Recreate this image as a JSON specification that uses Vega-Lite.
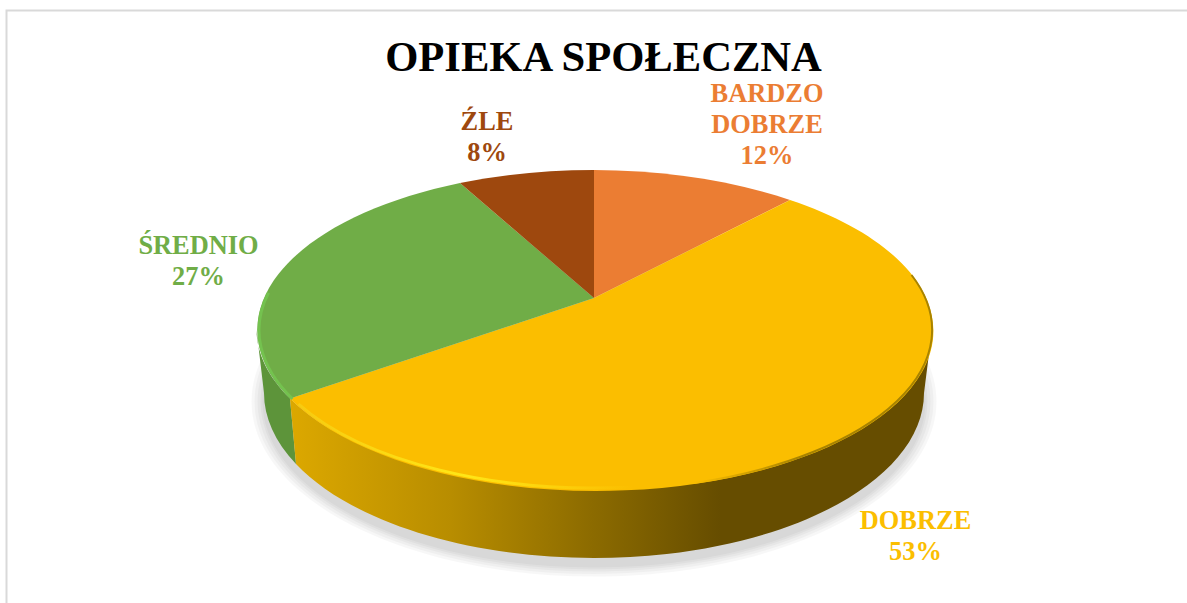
{"$schema":"https://vega.github.io/schema/vega-lite/v6.json","width":1187,"height":603,"autosize":{"type":"none"},"padding":0,"background":"white","view":{"stroke":null},
"title":{"text":"OPIEKA SPOŁECZNA","font":"Liberation Serif","fontSize":42.6,"fontWeight":"bold","color":"black","anchor":"middle","dx":10,"offset":-114,"baseline":"alphabetic"},
"data":{"values":[{"label":"BARDZO DOBRZE","value":12},{"label":"DOBRZE","value":53},{"label":"ŚREDNIO","value":27},{"label":"ŹLE","value":8}]},
"transform":[{"calculate":"replace(datum.label,' ','\\n')+'\\n'+datum.value+'%'","as":"text"}],
"layer":[
{"transform":[{"filter":"datum.label==='DOBRZE'"}],"mark":{"type":"point","size":4,"opacity":1,"fill":"none","filled":false,"stroke":"#d9d9d9","strokeWidth":2,"shape":"M-587,303 L-587,-291 L600,-291"}},
{"transform":[{"filter":"datum.label==='DOBRZE'"}],"mark":{"type":"point","size":4,"opacity":0.03,"filled":true,"fill":"black","stroke":null,"shape":"M-342,100 A342.5,175 0 0 0 343,100 A342.5,175 0 0 0 -342,100 Z"}},
{"transform":[{"filter":"datum.label==='DOBRZE'"}],"mark":{"type":"point","size":4,"opacity":0.03,"filled":true,"fill":"black","stroke":null,"shape":"M-339,100 A339.5,172.5 0 0 0 340,100 A339.5,172.5 0 0 0 -339,100 Z"}},
{"transform":[{"filter":"datum.label==='DOBRZE'"}],"mark":{"type":"point","size":4,"opacity":0.03,"filled":true,"fill":"black","stroke":null,"shape":"M-336,100 A336.5,170 0 0 0 337,100 A336.5,170 0 0 0 -336,100 Z"}},
{"transform":[{"filter":"datum.label==='DOBRZE'"}],"mark":{"type":"point","size":4,"opacity":0.03,"filled":true,"fill":"black","stroke":null,"shape":"M-333,100 A333.5,168 0 0 0 334,100 A333.5,168 0 0 0 -333,100 Z"}},
{"transform":[{"filter":"datum.label==='DOBRZE'"}],"mark":{"type":"point","size":4,"opacity":0.03,"filled":true,"fill":"black","stroke":null,"shape":"M-331,100 A331.5,166 0 0 0 332,100 A331.5,166 0 0 0 -331,100 Z"}},
{"transform":[{"filter":"datum.label==='ŚREDNIO'"}],"mark":{"type":"point","size":4,"opacity":1,"filled":true,"fill":"#5d943a","stroke":null,"shape":"M-337,28.5 L-329.5,91.5 A330,165 0 0 0 -297.5,162.4 L-303.5,97 A337.5,160 0 0 1 -337,28.5 Z"}},
{"transform":[{"filter":"datum.label==='DOBRZE'"}],"mark":{"type":"point","size":4,"opacity":1,"filled":true,"stroke":null,"fill":{"gradient":"linear","x1":0,"y1":0,"x2":1,"y2":0,"stops":[{"offset":0,"color":"#dca800"},{"offset":0.25,"color":"#b88d00"},{"offset":0.47,"color":"#8c6b00"},{"offset":0.67,"color":"#664d00"},{"offset":1,"color":"#664d00"}]},"shape":"M-303.5,97 L-297.5,162.4 A330,165 0 0 0 330.5,91.5 L338.5,28.5 A337.5,160 0 0 1 -303.5,97 Z"}},
{"mark":{"type":"point","size":4,"opacity":1,"filled":true},"encoding":{
"shape":{"field":"label","type":"nominal","legend":null,"scale":{"domain":["BARDZO DOBRZE","DOBRZE","ŚREDNIO","ŹLE"],"range":["M0.5,-3.5 L0.5,-131.5 A337.5,160 0 0 1 196.5,-101.5 Z","M0.5,-3.5 L196.5,-101.5 A337.5,160 0 1 1 -303.5,97 Z","M0.5,-3.5 L-303.5,97 A337.5,160 0 0 1 -133.5,-118.4 Z","M0.5,-3.5 L-133.5,-118.4 A337.5,160 0 0 1 0.5,-131.5 Z"]}},
"color":{"field":"label","type":"nominal","legend":null,"scale":{"domain":["BARDZO DOBRZE","DOBRZE","ŚREDNIO","ŹLE"],"range":["#EB7D33","#FBBE00","#70AD47","#9E480E"]}}}},
{"transform":[{"filter":"datum.label==='DOBRZE'"}],"mark":{"type":"point","size":4,"opacity":1,"fill":"none","filled":false,"strokeWidth":3,"stroke":{"gradient":"linear","x1":0,"y1":0,"x2":1,"y2":0,"stops":[{"offset":0,"color":"#f7cb10"},{"offset":0.5,"color":"#ffe617"},{"offset":1,"color":"#fbbe00"}]},"shape":"M-295,102.5 A335,158 0 0 0 40,185.4"}},
{"transform":[{"filter":"datum.label==='DOBRZE'"}],"mark":{"type":"point","size":4,"opacity":1,"fill":"none","filled":false,"strokeWidth":2,"stroke":{"gradient":"linear","x1":0,"y1":0,"x2":1,"y2":0,"stops":[{"offset":0,"color":"#fbbe00"},{"offset":0.45,"color":"#a88300"},{"offset":1,"color":"#a88300"}]},"shape":"M100,181.5 A337.5,160 0 0 0 318,-26.5"}},
{"transform":[{"filter":"datum.label==='ŚREDNIO'"}],"mark":{"type":"point","size":4,"opacity":1,"fill":"none","filled":false,"strokeWidth":3,"stroke":"#74c24f","shape":"M-301,97.4 A335.5,158 0 0 1 -325,-8.8"}},
{"transform":[{"filter":"datum.label==='BARDZO DOBRZE'"}],"mark":{"type":"text","font":"Liberation Serif","fontSize":26.4,"fontWeight":"bold","lineBreak":"\n","lineHeight":31,"baseline":"alphabetic","align":"center","dx":173.5,"dy":-199.5},"encoding":{"text":{"field":"text"},"color":{"field":"label","type":"nominal","legend":null}}},
{"transform":[{"filter":"datum.label==='ŹLE'"}],"mark":{"type":"text","font":"Liberation Serif","fontSize":26.4,"fontWeight":"bold","lineBreak":"\n","lineHeight":31,"baseline":"alphabetic","align":"center","dx":-106.5,"dy":-171.5},"encoding":{"text":{"field":"text"},"color":{"field":"label","type":"nominal","legend":null}}},
{"transform":[{"filter":"datum.label==='ŚREDNIO'"}],"mark":{"type":"text","font":"Liberation Serif","fontSize":26.4,"fontWeight":"bold","lineBreak":"\n","lineHeight":31,"baseline":"alphabetic","align":"center","dx":-395,"dy":-47.5},"encoding":{"text":{"field":"text"},"color":{"field":"label","type":"nominal","legend":null}}},
{"transform":[{"filter":"datum.label==='DOBRZE'"}],"mark":{"type":"text","font":"Liberation Serif","fontSize":26.4,"fontWeight":"bold","lineBreak":"\n","lineHeight":31,"baseline":"alphabetic","align":"center","dx":322,"dy":227.5},"encoding":{"text":{"field":"text"},"color":{"field":"label","type":"nominal","legend":null}}}
]}
